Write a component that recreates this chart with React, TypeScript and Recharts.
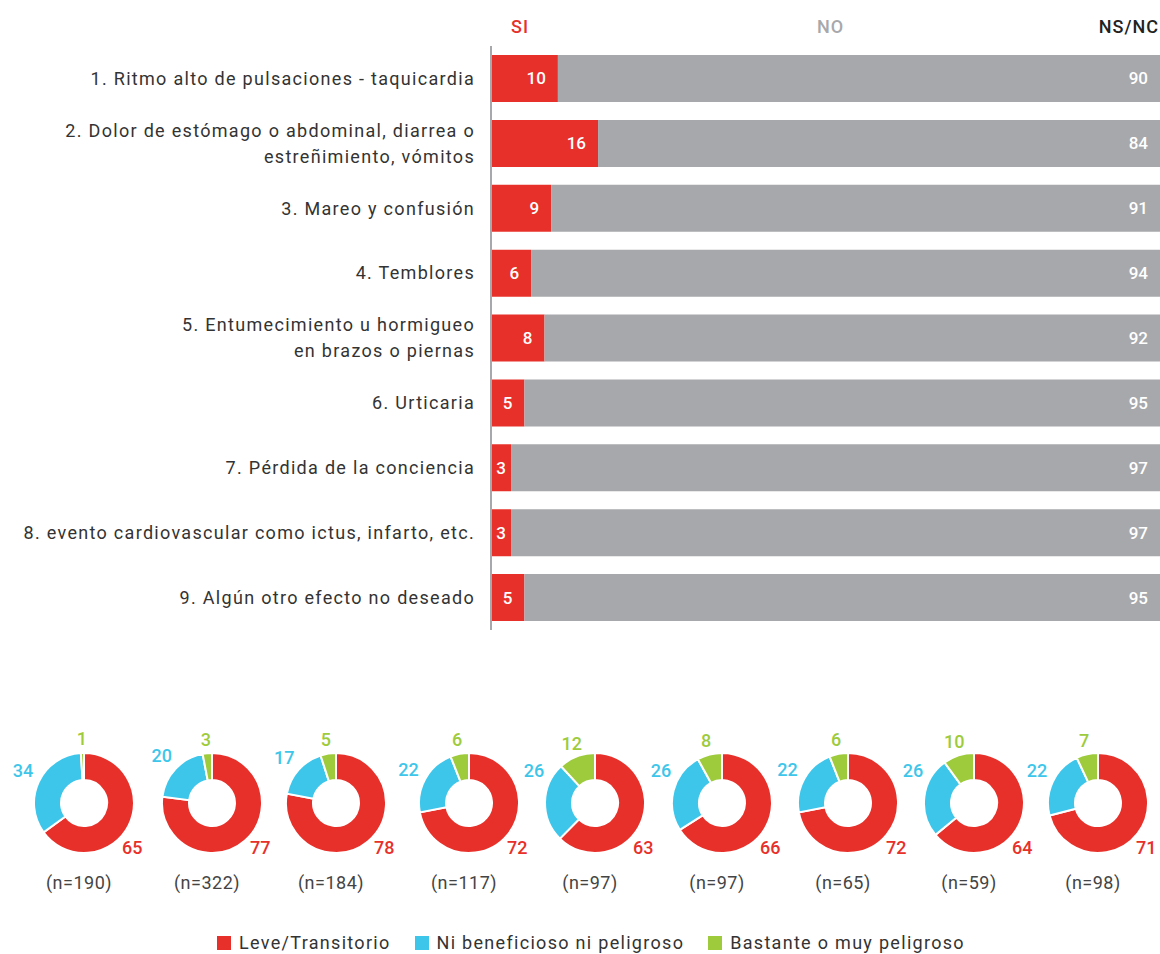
import { BarChart, Bar, XAxis, YAxis, LabelList, PieChart, Pie, Cell } from 'recharts';

const FONT = 'Roboto, "Noto Sans", sans-serif';
const RED = '#e8302a';
const GRAY = '#a7a8ab';
const BLUE = '#3ec6ea';
const GREEN = '#9dcb3c';

// top block: SI / NO / NS/NC per symptom
const symptoms = [
  '1. Ritmo alto de pulsaciones - taquicardia',
  '2. Dolor de estómago o abdominal, diarrea o\nestreñimiento, vómitos',
  '3. Mareo y confusión',
  '4. Temblores',
  '5. Entumecimiento u hormigueo\nen brazos o piernas',
  '6. Urticaria',
  '7. Pérdida de la conciencia',
  '8. evento cardiovascular como ictus, infarto, etc.',
  '9. Algún otro efecto no deseado',
];
const si = [10, 16, 9, 6, 8, 5, 3, 3, 5];
const no = [90, 84, 91, 94, 92, 95, 97, 97, 95];
const nsnc = [0, 0, 0, 0, 0, 0, 0, 0, 0];

// donuts: perception of the effect
const sampleSizes = [190, 322, 184, 117, 97, 97, 65, 59, 98];
const leve = [65, 77, 78, 72, 63, 66, 72, 64, 71];
const ni = [34, 20, 17, 22, 26, 26, 22, 26, 22];
const bastante = [1, 3, 5, 6, 12, 8, 6, 10, 7];
const donutLegend = ['Leve/Transitorio', 'Ni beneficioso ni peligroso', 'Bastante o muy peligroso'];
const sliceColors = [RED, BLUE, GREEN];

const barData = symptoms.map((name, i) => ({ name, si: si[i], no: no[i], nsnc: nsnc[i] }));
const donutData = sampleSizes.map((_, i) => [
  { name: donutLegend[0], value: leve[i] },
  { name: donutLegend[1], value: ni[i] },
  { name: donutLegend[2], value: bastante[i] },
]);

const donutX = [79, 207, 331, 464, 590, 717, 843, 969, 1093];
const RAD = Math.PI / 180;

const SymptomTick = ({ x, y, payload }: any) => {
  const lines = String(payload.value).split('\n');
  const lh = 26;
  const y0 = y - ((lines.length - 1) * lh) / 2;
  return (
    <text
      x={x}
      y={y0}
      textAnchor='end'
      fontSize={18}
      fill='#333'
      fontFamily={FONT}
      letterSpacing={1.3}
    >
      {lines.map((l, i) => (
        <tspan key={i} x={x} dy={i === 0 ? '0.35em' : lh}>
          {l}
        </tspan>
      ))}
    </text>
  );
};

const ValueLabel = (props: any) => {
  const { x, y, width, height, value } = props;
  if (!value) return null;
  const atEnd = width >= 30;
  return (
    <text
      x={atEnd ? x + width - 12 : x + width / 2}
      y={y + height / 2}
      dy='0.35em'
      textAnchor={atEnd ? 'end' : 'middle'}
      fill='#fff'
      fontSize={17}
      fontWeight={500}
      fontFamily={FONT}
    >
      {value}
    </text>
  );
};

const renderDonutLabel = (p: any) => {
  const { cx, cy, midAngle, outerRadius, index, value } = p;
  let angle = ((midAngle % 360) + 360) % 360;
  if (index === 0) angle = -43;
  if (index === 1) angle = Math.min(angle, 152);
  const r = outerRadius + (index === 0 ? 16 : index === 1 ? 19 : 14);
  const x = cx + r * Math.cos(-angle * RAD);
  const y = cy + r * Math.sin(-angle * RAD);
  return (
    <text
      x={x}
      y={y}
      dy='0.35em'
      textAnchor='middle'
      fill={sliceColors[index]}
      fontSize={18}
      fontWeight={500}
      fontFamily={FONT}
    >
      {value}
    </text>
  );
};

const headerStyle = {
  position: 'absolute' as const,
  top: 15,
  fontSize: 18,
  fontWeight: 500,
  lineHeight: '24px',
  letterSpacing: 1,
};

export default function App() {
  return (
    <div
      style={{
        position: 'absolute',
        left: 0,
        top: 0,
        width: 1160,
        height: 954,
        background: '#fff',
        fontFamily: FONT,
        overflow: 'hidden',
      }}
    >
      <span style={{ ...headerStyle, left: 511, color: RED }}>SI</span>
      <span style={{ ...headerStyle, left: 817, color: GRAY }}>NO</span>
      <span style={{ ...headerStyle, right: 1, color: '#222' }}>NS/NC</span>

      <div style={{ position: 'absolute', left: 0, top: 0 }}>
        <BarChart
          width={1160}
          height={640}
          data={barData}
          layout='vertical'
          margin={{ top: 46, right: 0, bottom: 10, left: 0 }}
        >
          <XAxis type='number' domain={[0, 100]} hide />
          <YAxis
            type='category'
            dataKey='name'
            width={491}
            tick={<SymptomTick />}
            tickLine={false}
            tickMargin={10}
            axisLine={{ stroke: GRAY, strokeWidth: 2 }}
            interval={0}
          />
          <Bar dataKey='si' stackId='a' fill={RED} barSize={47} isAnimationActive={false}>
            <LabelList dataKey='si' content={<ValueLabel />} />
          </Bar>
          <Bar dataKey='no' stackId='a' fill={GRAY} barSize={47} isAnimationActive={false}>
            <LabelList dataKey='no' content={<ValueLabel />} />
          </Bar>
          <Bar dataKey='nsnc' stackId='a' fill='#222' barSize={47} isAnimationActive={false} />
        </BarChart>
      </div>

      <div style={{ position: 'absolute', left: 0, top: 700 }}>
        <PieChart width={1160} height={200}>
          {donutData.map((d, i) => (
            <Pie
              key={i}
              data={d}
              dataKey='value'
              nameKey='name'
              cx={donutX[i]}
              cy={98}
              innerRadius={23}
              outerRadius={50}
              startAngle={90}
              endAngle={-270}
              stroke='#fff'
              strokeWidth={2}
              label={renderDonutLabel}
              labelLine={false}
              isAnimationActive={false}
            >
              {d.map((_, j) => (
                <Cell key={j} fill={sliceColors[j]} />
              ))}
            </Pie>
          ))}
        </PieChart>
      </div>

      {sampleSizes.map((n, i) => (
        <div
          key={i}
          style={{
            position: 'absolute',
            top: 870,
            left: donutX[i] - 50,
            width: 100,
            textAlign: 'center',
            fontSize: 18,
            lineHeight: '26px',
            letterSpacing: 0.5,
            color: '#444',
          }}
        >
          (n={n})
        </div>
      ))}

      <div
        style={{
          position: 'absolute',
          top: 931,
          left: 0,
          width: 1160,
          display: 'flex',
          justifyContent: 'center',
          gap: 24,
          paddingLeft: 22,
          boxSizing: 'border-box',
          fontSize: 18,
          lineHeight: '24px',
          letterSpacing: 1.3,
          color: '#333',
        }}
      >
        {donutLegend.map((label, i) => (
          <div key={i} style={{ display: 'flex', alignItems: 'center' }}>
            <span
              style={{ width: 14, height: 14, background: sliceColors[i], marginRight: 8, display: 'inline-block' }}
            />
            {label}
          </div>
        ))}
      </div>
    </div>
  );
}
